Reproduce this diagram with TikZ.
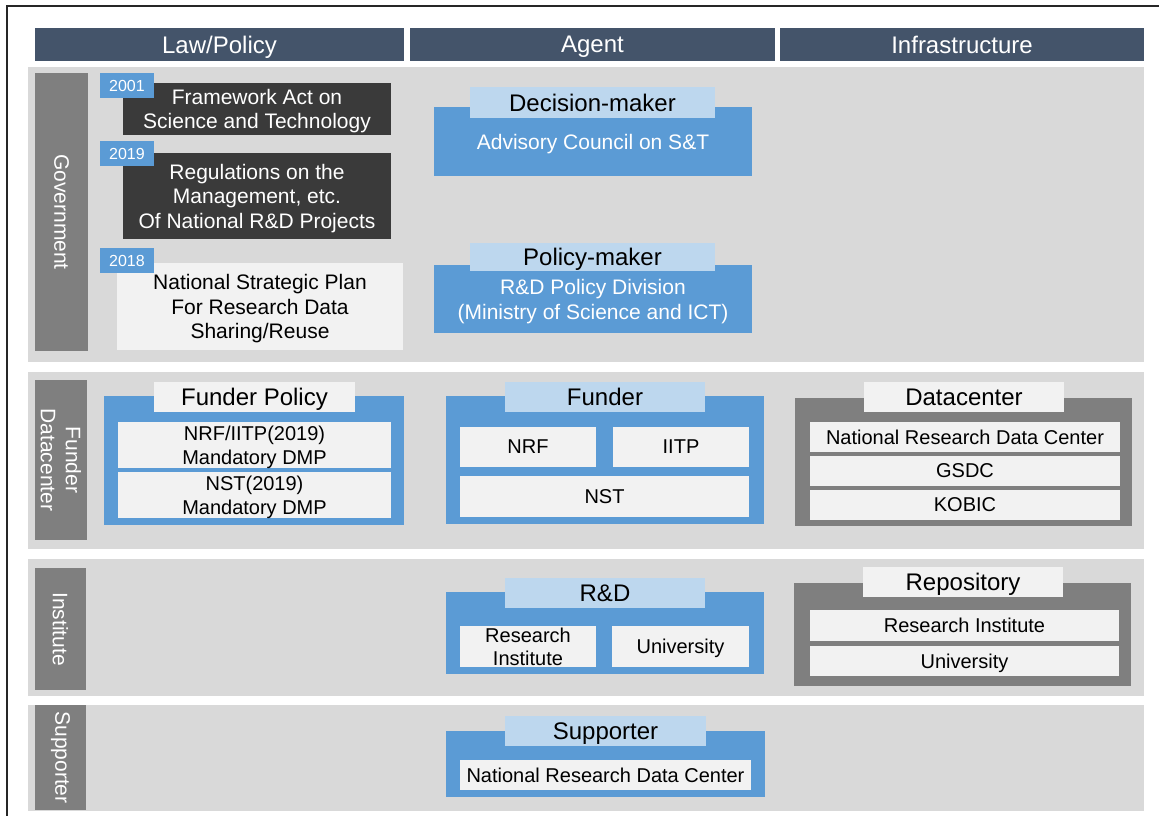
\documentclass[tikz,border=0pt]{standalone}
\usepackage{fontspec}
\setmainfont{Liberation Sans}
\usetikzlibrary{positioning}

\definecolor{hdrslate}{HTML}{44546A}
\definecolor{bandgray}{HTML}{D9D9D9}
\definecolor{labgray}{HTML}{7F7F7F}
\definecolor{actblue}{HTML}{5B9BD5}
\definecolor{tabblue}{HTML}{BDD7EE}
\definecolor{itemgray}{HTML}{F2F2F2}
\definecolor{lawdark}{HTML}{3A3A3A}

\tikzset{
  box/.style={ inner sep=0pt, outer sep=0pt, anchor=north west, align=center, text depth=0pt },
  wh/.style 2 args={ minimum width=#1pt, minimum height=#2pt }
}
\tikzset{
  hdr/.style={ box, fill=hdrslate, text=white, font=\fontsize{24}{29}\selectfont },
  band/.style={ box, fill=bandgray },
  rowlab/.style={ inner sep=0pt, fill=labgray, text=white, rotate=-90, align=center,
    font=\fontsize{21}{25}\selectfont }
}
\tikzset{
  yeartag/.style={ box, fill=actblue, text=white, minimum width=54pt, minimum height=25pt,
    font=\fontsize{16}{19}\selectfont },
  lawbox/.style={ box, fill=lawdark, text=white, font=\fontsize{21}{24.5}\selectfont },
  planbox/.style={ box, fill=itemgray, text=black, font=\fontsize{21}{24.5}\selectfont },
  bluebox/.style={ box, fill=actblue, text=white, font=\fontsize{21}{25}\selectfont },
  greybox/.style={ box, fill=labgray },
  bluetab/.style={ box, fill=tabblue, text=black, font=\fontsize{24}{29}\selectfont },
  greytab/.style={ box, fill=itemgray, text=black, font=\fontsize{24}{29}\selectfont },
  item/.style={ box, fill=itemgray, text=black, font=\fontsize{20}{23.5}\selectfont }
}

\begin{document}
\begin{tikzpicture}[x=1pt, y=-1pt]
  \useasboundingbox (0,0) rectangle (1159,816);
  \draw[line width=1.4pt, black!85] (7,816) -- (7,6) -- (1159,6);

  % column heads
  \node[hdr, wh={369}{33}] (hLaw) at (35,28) {Law/Policy};
  \node[hdr, wh={365}{33}] (hAgent) at (410,28) {Agent};
  \node[hdr, wh={364}{33}] (hInfra) at (780,28) {Infrastructure};

  % row bands
  \node[band, wh={1116}{295}] (bGov) at (28,67) {};
  \node[band, wh={1116}{177}] (bFund) at (28,372) {};
  \node[band, wh={1116}{137}] (bInst) at (28,559) {};
  \node[band, wh={1116}{106}] (bSupp) at (28,705) {};

  \node[rowlab, minimum width=278pt, minimum height=53pt] (lGov) at (61.5,212) {Government};
  \node[rowlab, minimum width=160pt, minimum height=52pt] (lFund) at (61,460) {Funder\\Datacenter};
  \node[rowlab, minimum width=122pt, minimum height=51pt] (lInst) at (60.5,629) {Institute};
  \node[rowlab, minimum width=105pt, minimum height=51pt] (lSupp) at (60.5,757.5) {Supporter};

  % government: laws
  \node[lawbox, wh={268}{52}] (lawAct) at (123,83) {Framework Act on\\Science and Technology};
  \node[yeartag] (y2001) at (100,73) {2001};
  \node[lawbox, wh={268}{86}] (lawReg) at (123,153) {Regulations on the\\Management, etc.\\Of National R\&D Projects};
  \node[yeartag] (y2019) at (100,141) {2019};
  \node[planbox, wh={286}{87}] (plan) at (117,263) {National Strategic Plan\\For Research Data\\Sharing/Reuse};
  \node[yeartag] (y2018) at (100,248) {2018};

  % government: agents
  \node[bluebox, wh={318}{69}] (decBox) at (434,107) {Advisory Council on S\&T};
  \node[bluetab, wh={245}{31}] (decTab) at (470,87) {Decision-maker};
  \node[bluebox, wh={318}{68}] (polBox) at (434,265) {R\&D Policy Division\\(Ministry of Science and ICT)};
  \node[bluetab, wh={245}{28}] (polTab) at (470,243) {Policy-maker};

  % funder / datacenter
  \node[bluebox, wh={300}{129}] (fpBox) at (104,396) {};
  \node[greytab, wh={201}{30}] (fpTab) at (154,382) {Funder Policy};
  \node[item, wh={273}{46}] (fpNrf) at (118,422) {NRF/IITP(2019)\\Mandatory DMP};
  \node[item, wh={273}{46}] (fpNst) at (118,472) {NST(2019)\\Mandatory DMP};

  \node[bluebox, wh={318}{128}] (fuBox) at (446,396) {};
  \node[bluetab, wh={200}{30}] (fuTab) at (505,382) {Funder};
  \node[item, wh={136}{40}] (fuNrf) at (460,427) {NRF};
  \node[item, wh={136}{40}] (fuIitp) at (613,427) {IITP};
  \node[item, wh={289}{41}] (fuNst) at (460,476) {NST};

  \node[greybox, wh={337}{128}] (dcBox) at (795,398) {};
  \node[greytab, wh={200}{30}] (dcTab) at (864,382) {Datacenter};
  \node[item, wh={310}{30}] (dcNrdc) at (810,422) {National Research Data Center};
  \node[item, wh={310}{30}] (dcGsdc) at (810,456) {GSDC};
  \node[item, wh={310}{30}] (dcKobic) at (810,490) {KOBIC};

  % institute
  \node[bluebox, wh={318}{82}] (rdBox) at (446,592) {};
  \node[bluetab, wh={200}{30}] (rdTab) at (505,578) {R\&D};
  \node[item, wh={136}{41}] (rdInst) at (460,626) {Research\\Institute};
  \node[item, wh={137}{41}] (rdUni) at (612,626) {University};

  \node[greybox, wh={337}{103}] (repBox) at (794,583) {};
  \node[greytab, wh={200}{30}] (repTab) at (863,567) {Repository};
  \node[item, wh={309}{31}] (repInst) at (810,610) {Research Institute};
  \node[item, wh={309}{30}] (repUni) at (810,646) {University};

  % supporter
  \node[bluebox, wh={319}{66}] (supBox) at (446,731) {};
  \node[bluetab, wh={201}{30}] (supTab) at (505,716) {Supporter};
  \node[item, wh={291}{30}] (supNrdc) at (460,760) {National Research Data Center};
\end{tikzpicture}
\end{document}
